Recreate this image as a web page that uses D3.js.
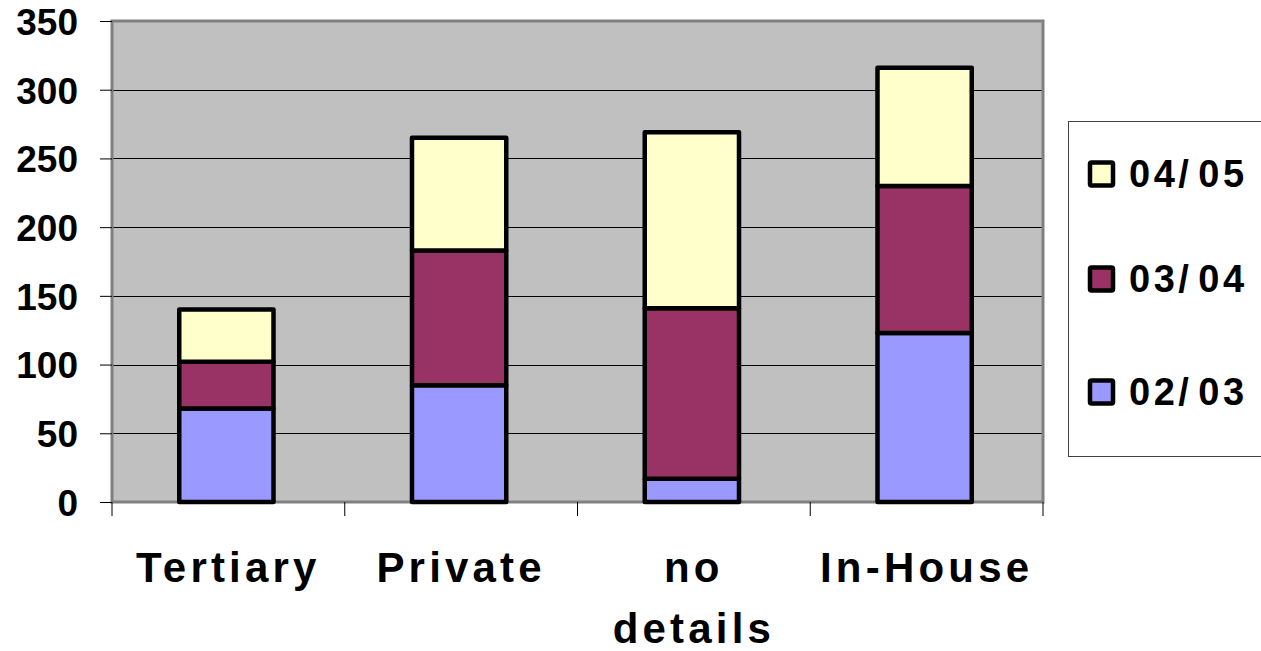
<!DOCTYPE html>
<html>
<head>
<meta charset="utf-8">
<script src="https://cdn.jsdelivr.net/npm/d3@7"></script>
<style>
  html, body { margin: 0; padding: 0; background: #ffffff; }
  svg { display: block; }
  text { font-family: "Liberation Sans", Arial, sans-serif; font-weight: bold; fill: #000; }
</style>
</head>
<body>
<svg id="chart" width="1261" height="651"></svg>
<script>
const categories = [["Tertiary"], ["Private"], ["no", "details"], ["In-House"]];
const seriesNames = ["02/03", "03/04", "04/05"];
const s0203 = [68, 85, 17, 123];
const s0304 = [34, 98, 124, 107];
const s0405 = [38, 82, 128, 86];
const seriesColors = ["#9999FF", "#993366", "#FFFFCC"];
const yTicks = [0, 50, 100, 150, 200, 250, 300, 350];

const svg = d3.select("#chart");
const m = { left: 112, right: 1043, top: 21, bottom: 502 };

const x = d3.scaleBand().domain(d3.range(categories.length)).range([m.left, m.right]).padding(0);
const y = d3.scaleLinear().domain([0, 350]).range([m.bottom, m.top]);

// plot background
svg.append("rect")
  .attr("x", m.left).attr("y", m.top)
  .attr("width", m.right - m.left).attr("height", m.bottom - m.top)
  .attr("fill", "#C0C0C0");

// gridlines
svg.append("g").selectAll("line").data(yTicks.filter(d => d > 0 && d < 350)).join("line")
  .attr("x1", m.left).attr("x2", m.right)
  .attr("y1", d => Math.round(y(d)) + 0.5).attr("y2", d => Math.round(y(d)) + 0.5)
  .attr("stroke", "#000").attr("stroke-width", 1);

// plot border
svg.append("rect")
  .attr("x", m.left).attr("y", m.top)
  .attr("width", m.right - m.left).attr("height", m.bottom - m.top)
  .attr("fill", "none").attr("stroke", "#808080").attr("stroke-width", 3);

// stacked data
const rows = categories.map((c, i) => ({ i, "02/03": s0203[i], "03/04": s0304[i], "04/05": s0405[i] }));
const stack = d3.stack().keys(seriesNames)(rows);

const barW = x.bandwidth() * 0.405;
stack.forEach((layer, k) => {
  svg.append("g").selectAll("rect").data(layer).join("rect")
    .attr("x", d => x(d.data.i) + x.bandwidth() / 2 - barW / 2 - 2)
    .attr("y", d => y(d[1]))
    .attr("width", barW)
    .attr("height", d => y(d[0]) - y(d[1]))
    .attr("fill", seriesColors[k])
    .attr("stroke", "#000").attr("stroke-width", 4.5)
    .attr("stroke-linejoin", "round");
});

// y axis
const yAxis = d3.axisLeft(y).tickValues(yTicks).tickSize(12).tickPadding(22);
const gy = svg.append("g").attr("transform", `translate(${m.left},0)`).call(yAxis);
gy.select(".domain").remove();
gy.selectAll(".tick line").attr("stroke", "#000").attr("stroke-width", 1);
gy.selectAll(".tick text")
  .attr("font-family", "Liberation Sans, Arial, sans-serif")
  .attr("font-weight", "bold").attr("font-size", 37).attr("fill", "#000")
  .attr("dy", "0.36em");

// x axis ticks at category boundaries
const xb = d3.range(categories.length + 1).map(i => i < categories.length ? x(i) : m.right);
svg.append("g").selectAll("line").data(xb).join("line")
  .attr("x1", d => d).attr("x2", d => d)
  .attr("y1", m.bottom).attr("y2", m.bottom + 14)
  .attr("stroke", "#000").attr("stroke-width", 1);

// x labels
const xl = svg.append("g");
categories.forEach((lines, i) => {
  const cx = x(i) + x.bandwidth() / 2 + 0;
  const t = xl.append("text")
    .attr("x", cx)
    .attr("y", 582)
    .attr("text-anchor", "middle")
    .attr("font-size", 42)
    .attr("letter-spacing", 4.2);
  lines.forEach((ln, j) => {
    t.append("tspan").attr("x", cx).attr("dy", j === 0 ? 0 : 61).text(ln);
  });
});

// legend
const lg = svg.append("g");
lg.append("rect").attr("x", 1068.5).attr("y", 121.5).attr("width", 220).attr("height", 335)
  .attr("fill", "#fff").attr("stroke", "#404040").attr("stroke-width", 1);
const legendOrder = [2, 1, 0];
const legendY = [174, 279, 392];
legendOrder.forEach((k, j) => {
  lg.append("rect").attr("x", 1090).attr("y", legendY[j] - 11.5).attr("width", 23).attr("height", 23)
    .attr("fill", seriesColors[k]).attr("stroke", "#000").attr("stroke-width", 4.5)
    .attr("rx", 1.5);
  const parts = seriesNames[k].split("/");
  const t = lg.append("text").attr("x", 1129).attr("y", legendY[j] + 13)
    .attr("font-size", 38).attr("letter-spacing", 3.5);
  t.append("tspan").text(parts[0] + "/");
  t.append("tspan").attr("dx", 6).text(parts[1]);
});
</script>
</body>
</html>
